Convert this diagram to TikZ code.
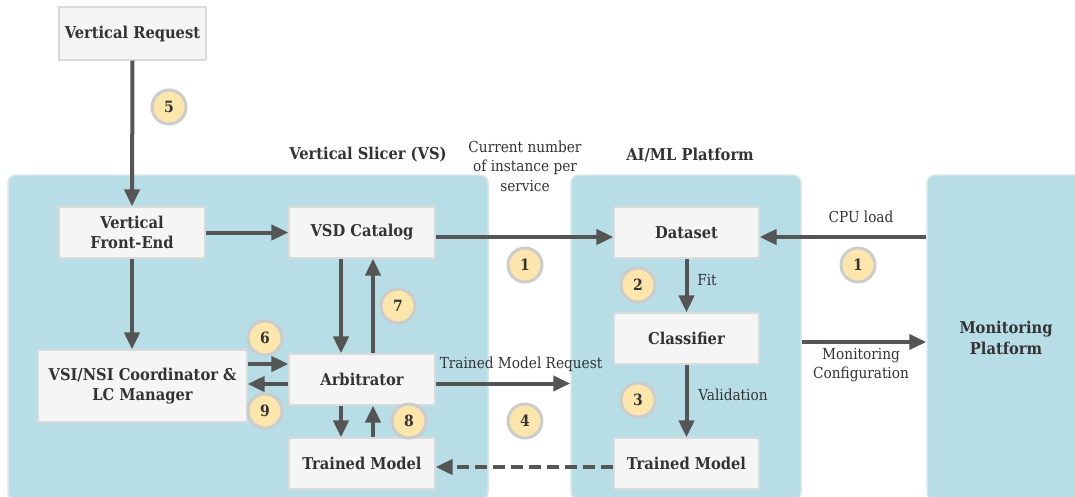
\documentclass[tikz,border=0pt]{standalone}
\usepackage{fontspec}
\setmainfont{DejaVu Serif Condensed}
\usetikzlibrary{arrows.meta,calc}
\definecolor{panel}{HTML}{B7DDE6}
\definecolor{panelline}{HTML}{D6E6EA}
\definecolor{boxfill}{HTML}{F5F5F5}
\definecolor{boxline}{HTML}{DADADA}
\definecolor{wire}{HTML}{555555}
\definecolor{ink}{HTML}{333333}
\definecolor{badgefill}{HTML}{FCE6AC}
\definecolor{badgering}{HTML}{CCCCCC}
\tikzset{
  panelbox/.style={draw=panelline, line width=1.5pt, fill=panel, rounded corners=8pt, inner sep=0pt},
  block/.style={draw=boxline, line width=1.2pt, fill=boxfill, text=ink, align=center,
    font=\fontsize{16.3}{20.5}\selectfont\bfseries, inner sep=0pt},
  title/.style={text=ink, font=\fontsize{16.3}{20.5}\selectfont\bfseries, inner sep=0pt},
  note/.style={text=ink, font=\fontsize{15.2}{19.5}\selectfont, align=center, inner sep=0pt},
  badge/.style={circle, draw=badgering, line width=3pt, fill=badgefill, minimum size=34pt,
    inner sep=0pt, text=ink, font=\fontsize{15.5}{15.5}\selectfont\bfseries},
  flow/.style={draw=wire, line width=4pt, -{Triangle[length=17pt,width=15pt]}},
  dashflow/.style={flow, dash pattern=on 12pt off 6pt},
}
\begin{document}
\begin{tikzpicture}[x=1pt, y=-1pt]
\useasboundingbox (0,0) rectangle (1075,496);
\clip (0,0) rectangle (1075,496);

% platform panels
\node[panelbox, minimum width=480pt, minimum height=325pt] (vs) at (248,337.5) {};
\node[panelbox, minimum width=230pt, minimum height=325pt] (ai) at (686,337.5) {};
\node[panelbox, minimum width=160pt, minimum height=325pt] (mon) at (1007,337.5) {};

% panel titles
\node[title] (vstitle) at (368,155) {Vertical Slicer (VS)};
\node[title] (aititle) at (690,155) {AI/ML Platform};
\node[title, align=center] (montitle) at (1006,338) {Monitoring\\Platform};

% blocks
\node[block, minimum width=147pt, minimum height=53pt] (vreq) at (132.5,33.5) {Vertical Request};
\node[block, minimum width=146pt, minimum height=51pt] (vfe) at (132,232.5) {Vertical\\Front-End};
\node[block, minimum width=146pt, minimum height=51pt] (vsd) at (362,232.5) {VSD Catalog};
\node[block, minimum width=209pt, minimum height=72pt] (vsi) at (142.5,386) {VSI/NSI Coordinator \&\\LC Manager};
\node[block, minimum width=146pt, minimum height=51pt] (arb) at (362,379.5) {Arbitrator};
\node[block, minimum width=146pt, minimum height=51pt] (tml) at (362,463.5) {Trained Model};
\node[block, minimum width=145pt, minimum height=51pt] (ds) at (686.5,232.5) {Dataset};
\node[block, minimum width=145pt, minimum height=51pt] (cls) at (686.5,338.5) {Classifier};
\node[block, minimum width=145pt, minimum height=51pt] (tmr) at (686.5,463.5) {Trained Model};

% connectors
\draw[flow] (vreq.south) -- (vfe.north);
\draw[flow] (vfe.east) -- (vsd.west);
\draw[flow] (vfe.south) -- (vfe.south |- vsi.north);
\draw[flow] ([xshift=-21pt]vsd.south) -- ([xshift=-21pt]arb.north);
\draw[flow] ([xshift=11pt]arb.north) -- ([xshift=11pt]vsd.south);
\draw[flow] ([yshift=15.5pt]vsi.east |- arb.east) -- ([yshift=15.5pt]arb.west);
\draw[flow] ([yshift=-4.5pt]arb.west) -- ([yshift=-4.5pt]vsi.east |- arb.west);
\draw[flow] ([xshift=-21pt]arb.south) -- ([xshift=-21pt]tml.north);
\draw[flow] ([xshift=11pt]tml.north) -- ([xshift=11pt]arb.south);
\draw[flow] ([yshift=-4pt]arb.east) -- ([yshift=-4pt]arb.east -| ai.west);
\draw[flow] ([yshift=-4.5pt]vsd.east) -- ([yshift=-4.5pt]ds.west);
\draw[flow] ([yshift=-4.5pt]mon.west |- ds.east) -- ([yshift=-4.5pt]ds.east);
\draw[flow] (ds.south) -- (cls.north);
\draw[flow] (cls.south) -- (tmr.north);
\draw[flow] ([yshift=-3.5pt]ai.east |- cls.east) -- ([yshift=-3.5pt]mon.west |- cls.east);
\draw[dashflow] ([yshift=-3.5pt]tmr.west) -- ([yshift=-3.5pt]tml.east);

% connector labels
\node[note] (lcur) at (525,166) {Current number\\of instance per\\service};
\node[note] (ltmr) at (521,364) {Trained Model Request};
\node[note] (lfit) at (707,280) {Fit};
\node[note] (lval) at (733,395) {Validation};
\node[note] (lcpu) at (861,217) {CPU load};
\node[note] (lmoncfg) at (861,365) {Monitoring\\Configuration};

% step badges
\node[badge] (b5) at (169,107) {5};
\node[badge] (b7) at (398,306) {7};
\node[badge] (b6) at (265,338) {6};
\node[badge] (b9) at (265,411) {9};
\node[badge] (b8) at (409,421) {8};
\node[badge] (b1a) at (525,265) {1};
\node[badge] (b4) at (525,421) {4};
\node[badge] (b2) at (638,285) {2};
\node[badge] (b3) at (638,400) {3};
\node[badge] (b1b) at (858,265) {1};
\end{tikzpicture}
\end{document}
